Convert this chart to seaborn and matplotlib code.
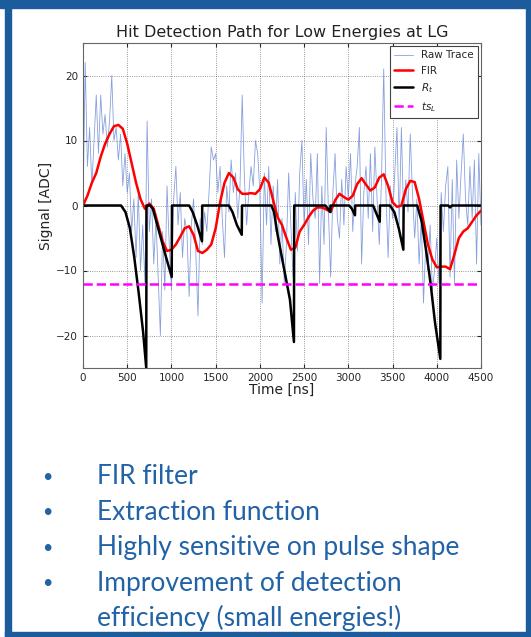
import numpy as np
import pandas as pd
import matplotlib
matplotlib.use("Agg")
import matplotlib.pyplot as plt
import seaborn as sns
from matplotlib.patches import Rectangle

# raw trace, one sample every 25 ns (0 .. 4500)
raw_vals = [
    0, 22, 6, 12, 3, 10, 17, 8, 17, 11, 14, 9, 13, 20, 10, 12, 7, 11, 3, 8,
    2, 5, -4, 1, -8, 2, -10, -3, -12, 13, -4, 1, -9, -2, -11, -20, -4, -13, 3, -6,
    -13, 1, 6, -3, 2, -8, -2, -4, -14, -3, 1, -7, -17, -2, -6, -1, -4, 2, 9, 7,
    8, 2, 6, -2, -8, 3, -1, 7, 2, 5, -2, 3, 17, 4, -3, 2, 6, 3, 10, 8,
    2, -15, 5, -3, 6, -6, 3, -4, 4, -9, -2, -12, -6, 5, -3, -11, 2, -7, 5, 10,
    -3, 4, -6, 8, 1, -2, 8, -12, 3, -6, 12, -1, -11, 2, 8, -2, -5, 4, -3, 6,
    1, 8, -4, 3, 6, 12, -9, 2, 6, -2, 8, -4, 9, 1, -6, 4, 21, 2, -8, 3,
    -2, 5, 12, -3, 12, -2, 4, -1, 11, 2, -5, 1, -9, -2, -15, -6, -10, -3, -13, -10,
    -5, -12, 2, -4, 3, 6, -11, 4, -12, 7, -2, 5, 11, 1, -3, 6, -2, 7, -9, 8,
    -3,
]
raw_time = np.arange(0, 4501, 25)

# FIR output, every 50 ns
fir_vals = [
    0, 1.5, 3.5, 5, 7.5, 9.5, 11, 12.2, 12.4, 11.8,
    9.5, 6.5, 3.5, 1, -0.5, 0.3, -0.5, -3, -5.5, -7,
    -6.8, -6, -4.8, -3.5, -3.2, -4.5, -7, -7.3, -6.8, -6,
    -3.5, 0.5, 3.5, 5, 4.3, 2.5, 1.8, 1.8, 1.9, 1.8,
    2.5, 4.3, 3.5, 0.8, -1.8, -3, -5, -6.8, -6.5, -4,
    -3, -1.8, -0.8, -0.3, -0.3, -0.6, -1, 0.8, 1.8, 1.3,
    0.9, 1.5, 3.3, 4.2, 3.2, 2.3, 2.8, 4.3, 4.8, 3,
    0.5, -0.2, 0, 2.5, 3.8, 3.6, 1, -2.5, -6, -8.3,
    -9.5, -9.4, -9.4, -9.8, -7.5, -5, -4, -3.5, -2.5, -1.5,
    -0.8,
]
fir_time = np.arange(0, 4501, 50)

# extraction function R_t
rt_time = [0, 430, 480, 530, 580, 630, 680, 715, 718, 760, 790, 840, 890, 940, 1003, 1006,
           1200, 1240, 1290, 1345, 1348, 1650, 1690, 1740, 1795, 1798,
           2130, 2160, 2200, 2270, 2340, 2385, 2388, 2740, 2770, 2795, 2798,
           3010, 3040, 3075, 3078, 3280, 3310, 3355, 3358, 3470, 3520, 3570, 3622, 3625,
           3780, 3830, 3880, 3930, 3980, 4040, 4043, 4130, 4150, 4170, 4500]
rt_vals = [0, 0, -1, -3.5, -8, -13.5, -19.5, -25, 0, 0, -0.5, -3, -5.5, -8, -11, 0,
           0, -1, -3, -5.5, 0, 0, -1, -3, -4.5, 0,
           0, -1, -4.5, -9.5, -14.5, -21, 0, 0, -0.5, -1, 0,
           0, -0.5, -1.5, 0, 0, -1, -2.5, 0, 0, -1, -3.5, -6.8, 0,
           0, -2.5, -7, -12, -18, -23.6, 0, 0, -0.3, 0, 0]

threshold = -12
bullets = ["FIR filter", "Extraction function", "Highly sensitive on pulse shape",
           "Improvement of detection"]
bullet_cont = "efficiency (small energies!)"

sns.set_style("ticks", {"xtick.direction": "in", "ytick.direction": "in"})
plt.rcParams['font.family'] = ['DejaVu Sans']

fig = plt.figure(figsize=(5.31, 6.37), dpi=100)
W, H = 531, 637
ax = fig.add_axes([83 / W, 1 - 368 / H, (481 - 83) / W, (368 - 43) / H])

sns.lineplot(x=raw_time, y=raw_vals, ax=ax, color="#6a88d6", lw=0.6, alpha=0.8,
             label="Raw Trace", estimator=None)
sns.lineplot(x=fir_time, y=fir_vals, ax=ax, color="red", lw=1.8, label="FIR", estimator=None)
sns.lineplot(x=rt_time, y=rt_vals, ax=ax, color="black", lw=1.8, label="$R_t$", estimator=None)
ax.axhline(threshold, color="magenta", ls="--", lw=1.8, label="$ts_L$")

ax.set_xlim(0, 4500)
ax.set_ylim(-25, 25)
ax.set_xticks(np.arange(0, 4501, 500))
ax.set_yticks([-20, -10, 0, 10, 20])
ax.tick_params(labelsize=7.5, direction="in", top=True, right=True, length=3)
ax.grid(True, ls=":", color="#777777", lw=0.6)
for s in ax.spines.values():
    s.set_color("#666666")
    s.set_linewidth(0.8)
ax.set_title("Hit Detection Path for Low Energies at LG", fontsize=11.5, pad=4,
             color="#222222")
ax.set_xlabel("Time [ns]", fontsize=10, labelpad=0, color="#222222")
ax.set_ylabel("Signal [ADC]", fontsize=10, labelpad=2, color="#222222")
leg = ax.legend(loc="upper right", fontsize=7.5, frameon=True, fancybox=False,
                framealpha=1, edgecolor="#444444", borderaxespad=0.3, handlelength=1.8)
leg.get_frame().set_linewidth(0.8)

# slide frame
blue = "#1d5c9c"
fig.patches.append(Rectangle((0, 1 - 8 / H), 1, 8 / H, transform=fig.transFigure,
                             color=blue, zorder=0))
fig.patches.append(Rectangle((5 / W, 0), 6 / W, 1, transform=fig.transFigure,
                             color=blue, zorder=0))
fig.patches.append(Rectangle((526 / W, 0), 4 / W, 1, transform=fig.transFigure,
                             color=blue, zorder=0))
fig.patches.append(Rectangle((5 / W, 1 / H), 525 / W, 4 / H, transform=fig.transFigure,
                             color=blue, zorder=0))

text_col = "#2262a6"
ys = [477, 512, 548, 583]
for y, t in zip(ys, bullets):
    fig.text(42 / W, 1 - y / H, "\u2022", color=text_col, fontsize=13, va="center",
             family="Lato")
    fig.text(97 / W, 1 - y / H, t, color=text_col, fontsize=19, va="center", family="Lato")
fig.text(97 / W, 1 - 618 / H, bullet_cont, color=text_col, fontsize=19, va="center",
         family="Lato")

fig.savefig("out.png", dpi=100)
